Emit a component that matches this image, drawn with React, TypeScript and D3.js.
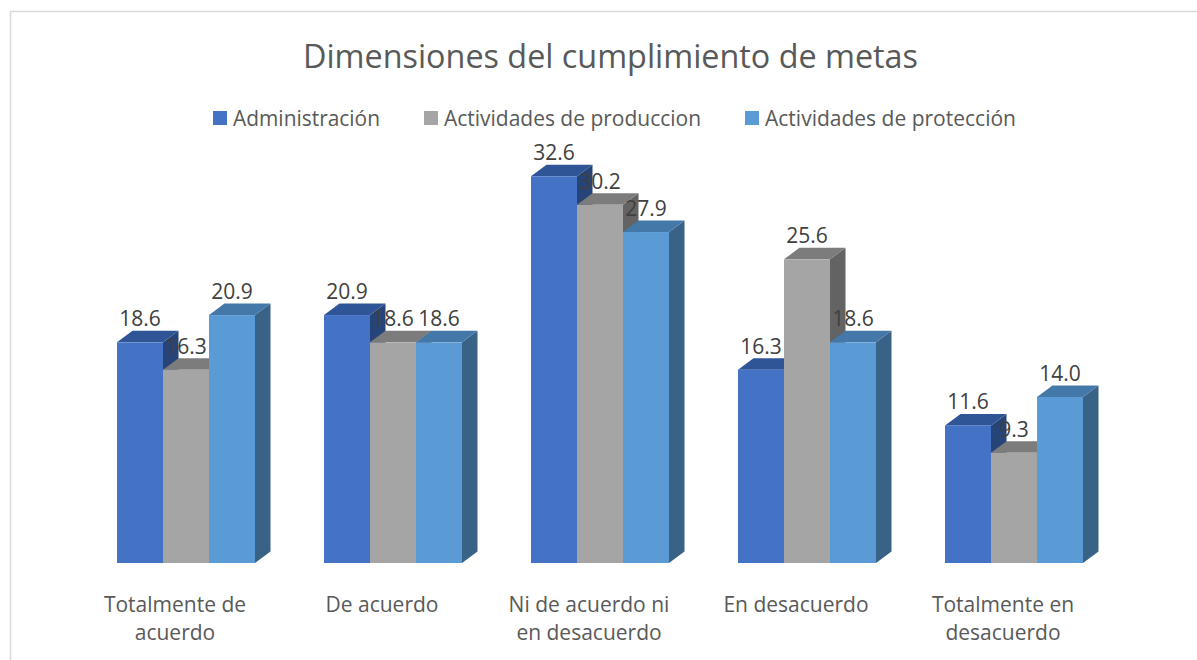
import React from "react";
import * as d3 from "d3";

const chartTitle = "Dimensiones del cumplimiento de metas";
const categories = ["Totalmente de acuerdo", "De acuerdo", "Ni de acuerdo ni en desacuerdo", "En desacuerdo", "Totalmente en desacuerdo"];
const categoryLines = [["Totalmente de", "acuerdo"], ["De acuerdo"], ["Ni de acuerdo ni", "en desacuerdo"], ["En desacuerdo"], ["Totalmente en", "desacuerdo"]];
const seriesNames = ["Administración", "Actividades de produccion", "Actividades de protección"];
const administracion = [18.6, 20.9, 32.6, 16.3, 11.6];
const produccion = [16.3, 18.6, 30.2, 25.6, 9.3];
const proteccion = [20.9, 18.6, 27.9, 18.6, 14.0];
const seriesValues = [administracion, produccion, proteccion];
const frontColors = ["#4472c4", "#a5a5a5", "#5b9bd5"];
const topColors = ["#2f5597", "#7c7c7c", "#4478a8"];
const sideColors = ["#264478", "#636363", "#386387"];
const legendSwatchX = [213, 424, 745];
const legendTextWidths = [147, 257, 251];

const FONT = "'Open Sans', sans-serif";
const W = 1197, H = 660;
const BASE = 563, DX = 15.5, DY = 11.5;

export default function App() {
  const y = d3.scaleLinear().domain([0, 32.6]).range([BASE, 176.3]);
  const x0 = d3.scaleBand<string>().domain(categories).range([117, 1083]).paddingInner(1 / 3).paddingOuter(0);
  const x1 = d3.scaleBand<number>().domain([0, 1, 2]).range([0, x0.bandwidth()]);
  const bw = x1.bandwidth();
  return (
    <svg width={W} height={H} style={{ position: "absolute", left: 0, top: 0 }} fontFamily={FONT}>
      <rect width={W} height={H} fill="#fff" />
      <path d={`M10.5 ${H}V11.5H${W}`} fill="none" stroke="#d9d9d9" strokeWidth={1.5} />
      <text x={610.5} y={68} textAnchor="middle" fontSize={32} fill="#595959" textLength={615} lengthAdjust="spacingAndGlyphs">{chartTitle}</text>
      {seriesNames.map((s, i) => (
        <g key={s}>
          <rect x={legendSwatchX[i]} y={111} width={14} height={14} fill={frontColors[i]} />
          <text x={legendSwatchX[i] + 20} y={126} fontSize={21} fill="#595959" textLength={legendTextWidths[i]} lengthAdjust="spacingAndGlyphs">{s}</text>
        </g>
      ))}
      {categories.map((c, ci) => (
        <g key={c}>
          {seriesValues.map((vals, si) => {
            const l = x0(c)! + x1(si)!;
            const r = l + bw;
            const t = y(vals[ci]);
            return (
              <g key={si}>
                <path d={`M${r} ${t}L${r + DX} ${t - DY}V${BASE - DY}L${r} ${BASE}Z`} fill={sideColors[si]} />
                <path d={`M${l} ${t}L${l + DX} ${t - DY}H${r + DX}L${r} ${t}Z`} fill={topColors[si]} />
                <rect x={l} y={t} width={bw} height={BASE - t} fill={frontColors[si]} />
              </g>
            );
          })}
          {seriesValues.map((vals, si) => (
            <text key={si} x={x0(c)! + x1(si)! + bw / 2} y={y(vals[ci]) - 16} textAnchor="middle" fontSize={21} fill="#404040">
              {vals[ci].toFixed(1)}
            </text>
          ))}
          {categoryLines[ci].map((line, li) => (
            <text key={li} x={x0(c)! + x0.bandwidth() / 2 - 11} y={612 + li * 28} textAnchor="middle" fontSize={21} fill="#595959">{line}</text>
          ))}
        </g>
      ))}
    </svg>
  );
}
